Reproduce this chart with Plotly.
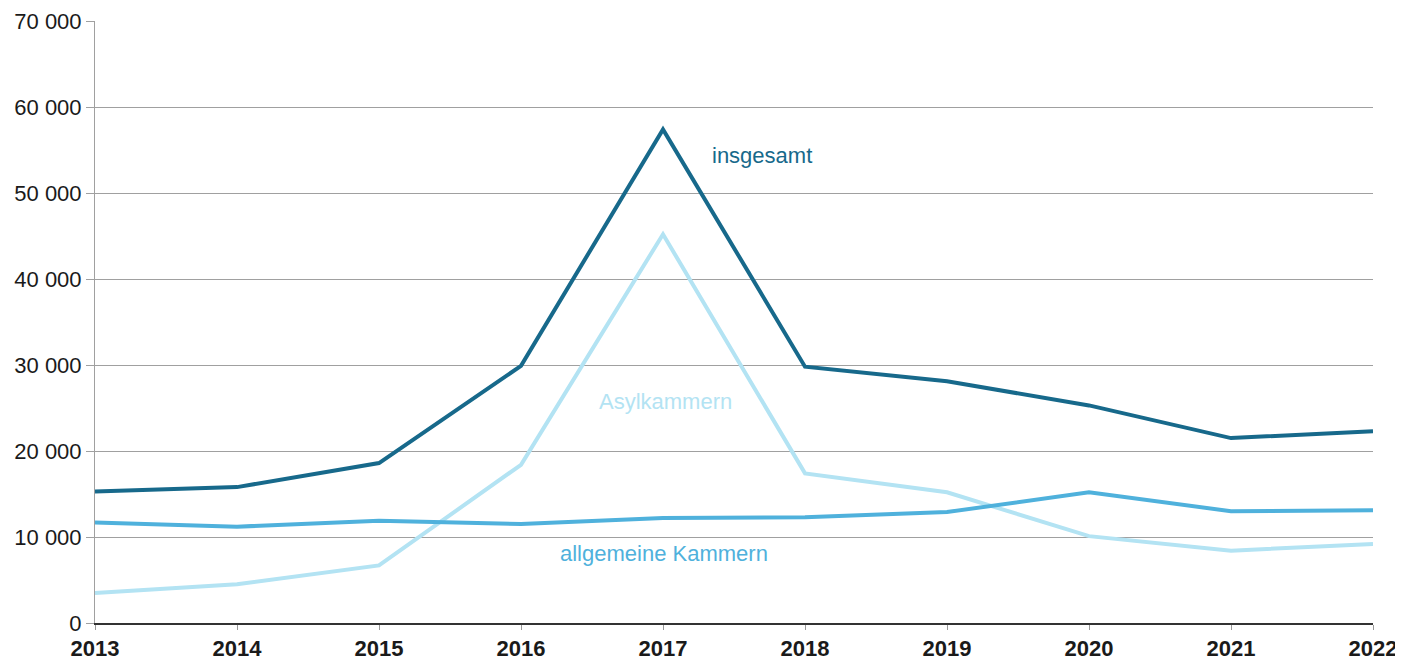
import plotly.graph_objects as go

years = [2013, 2014, 2015, 2016, 2017, 2018, 2019, 2020, 2021, 2022]
insgesamt = [15300, 15800, 18600, 29900, 57400, 29800, 28100, 25300, 21500, 22300]
allgemeine = [11700, 11200, 11900, 11500, 12200, 12300, 12900, 15200, 13000, 13100]
asyl = [3500, 4500, 6700, 18400, 45200, 17400, 15200, 10100, 8400, 9200]

y_ticks = [0, 10000, 20000, 30000, 40000, 50000, 60000, 70000]
y_ticktext = ["0", "10 000", "20 000", "30 000", "40 000", "50 000", "60 000", "70 000"]

c_ins = "#17698b"
c_all = "#4fb1dc"
c_asy = "#b3e3f3"

fig = go.Figure()
fig.add_trace(go.Scatter(x=years, y=asyl, mode="lines", line=dict(color=c_asy, width=4), name="Asylkammern"))
fig.add_trace(go.Scatter(x=years, y=allgemeine, mode="lines", line=dict(color=c_all, width=4), name="allgemeine Kammern"))
fig.add_trace(go.Scatter(x=years, y=insgesamt, mode="lines", line=dict(color=c_ins, width=4), name="insgesamt"))

font = "Liberation Sans, Arial, sans-serif"
fig.add_annotation(x=2017.7, y=54400, text="insgesamt", showarrow=False, font=dict(color=c_ins, size=22, family=font))
fig.add_annotation(x=2017.02, y=25800, text="Asylkammern", showarrow=False, font=dict(color=c_asy, size=22, family=font))
fig.add_annotation(x=2017.01, y=8100, text="allgemeine Kammern", showarrow=False, font=dict(color=c_all, size=22, family=font))

# page body has an 8px default margin, so the figure is shrunk by 8px
fig.update_layout(
    width=1395, height=652,
    margin=dict(l=87, r=30, t=13, b=37),
    plot_bgcolor="white", paper_bgcolor="white",
    showlegend=False,
    font=dict(family=font, color="#1a1a1a"),
)
fig.update_xaxes(
    range=[2013, 2022], tickmode="array", tickvals=years,
    ticktext=["<b>%d</b>" % y for y in years],
    tickfont=dict(size=22, family=font, color="#1a1a1a"),
    showgrid=False, showline=True, linecolor="#333333", linewidth=2,
    ticks="outside", ticklen=5, tickcolor="#999999", tickwidth=1,
    zeroline=False, automargin=False,
)
fig.update_yaxes(
    range=[0, 70000], tickmode="array", tickvals=y_ticks, ticktext=y_ticktext,
    tickfont=dict(size=22, family=font, color="#1a1a1a"),
    showgrid=True, gridcolor="#a0a0a0", gridwidth=1,
    showline=True, linecolor="#a0a0a0", linewidth=1,
    ticks="outside", ticklen=8, tickcolor="#a0a0a0",
    zeroline=False, automargin=False,
)
fig.write_html("out.html")
